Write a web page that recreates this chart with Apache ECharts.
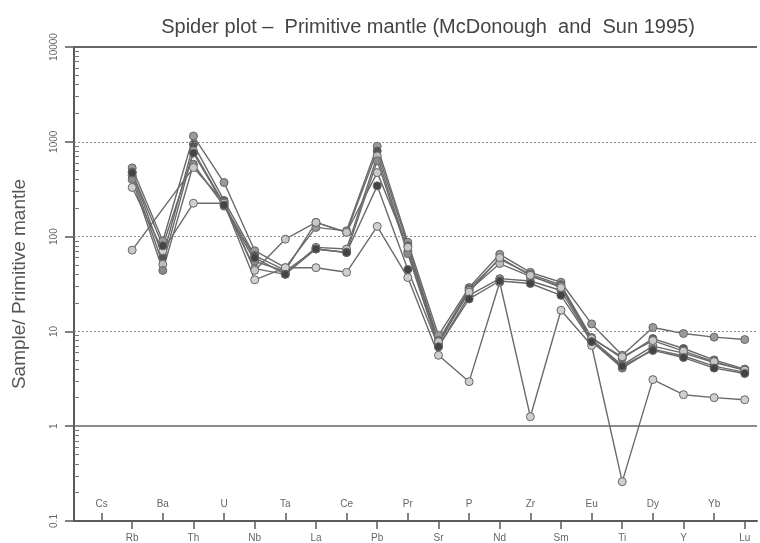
<!DOCTYPE html>
<html>
<head>
<meta charset="utf-8">
<title>Spider plot</title>
<script src="https://cdn.jsdelivr.net/npm/echarts@6/dist/echarts.min.js"></script>
<style>
  html, body { margin: 0; padding: 0; background: #fff; }
  #chart { width: 760px; height: 543px; }
</style>
</head>
<body>
<div id="chart"></div>
<script>
// Elements in spider-plot order (Cs has no analysed value)
const elements = ['Cs','Rb','Ba','Th','U','Nb','Ta','La','Ce','Pb','Pr','Sr','P','Nd','Zr','Sm','Eu','Ti','Dy','Y','Yb','Lu'];

// Sample / primitive mantle ratios, one array per sample
const sample1 = [null,530,90,1150,372,71,47,125,115,900,87,9.1,29,65,42,33,12,5.6,11,9.5,8.7,8.2];
const sample2 = [null,480,61,940,240,63,44,141,111,800,80,8.0,28,58,40,31,8.6,5.2,8.4,6.6,5.0,4.0];
const sample3 = [null,440,51,800,220,46,40,77,74,710,70,7.4,27,52,38,30,8.2,4.4,7.0,5.9,4.7,3.9];
const sample4 = [null,400,44,580,210,55,43,74,68,630,66,6.9,24,36,34,27,7.9,4.1,6.5,5.5,4.3,3.7];
const sample5 = [null,72,null,535,230,44,94,141,111,473,77,7.8,26,60,39,29,8.4,5.4,8.0,6.2,4.8,3.9];
const sample6 = [null,330,71,225,225,35,47,47,42,128,37,5.6,2.95,33,1.26,16.7,7.1,0.26,3.1,2.15,2.0,1.9];
const sample7 = [null,470,80,760,215,60,40,74,68,343,45,6.9,22,34,32,24,7.8,4.3,6.3,5.3,4.1,3.6];

const samples = [sample1, sample2, sample3, sample4, sample5, sample6, sample7];
const markerFills = ['#9a9a9a', '#555555', '#bdbdbd', '#8a8a8a', '#c8c8c8', '#d0d0d0', '#444444'];

// Decade labels on the log axis
const yTickLabels = [0.1, 1, 10, 100, 1000, 10000];

// 2..9 minor ticks inside every decade
const minorTicks = [];
yTickLabels.slice(0, -1).forEach(d => { for (let k = 2; k <= 9; k++) minorTicks.push(+(d * k).toPrecision(3)); });

const evenIdx = elements.map((_, i) => i).filter(i => i % 2 === 0);
const oddIdx = elements.map((_, i) => i).filter(i => i % 2 === 1);

const FONT = 'Liberation Sans, Arial, sans-serif';
const xMin = -0.9, xMax = 21.4;

const chart = echarts.init(document.getElementById('chart'), null, { renderer: 'canvas' });

const series = samples.map((s, si) => ({
  type: 'line',
  xAxisIndex: 0,
  yAxisIndex: 0,
  connectNulls: true,
  symbol: 'circle',
  symbolSize: 8,
  z: 3,
  lineStyle: { color: '#6a6a6a', width: 1.4 },
  itemStyle: { color: markerFills[si], borderColor: '#666', borderWidth: 1 },
  data: s.map((v, i) => [i, v == null ? '-' : v]),
  animation: false
}));

// Reference lines across the plot at decades
series.push({
  type: 'line',
  xAxisIndex: 0,
  yAxisIndex: 0,
  data: [],
  silent: true,
  animation: false,
  markLine: {
    silent: true,
    symbol: 'none',
    label: { show: false },
    animation: false,
    data: [
      { yAxis: 10000, lineStyle: { color: '#666', width: 2, type: 'solid' } },
      { yAxis: 1000, lineStyle: { color: '#8c8c8c', width: 1, type: [2, 2] } },
      { yAxis: 100, lineStyle: { color: '#8c8c8c', width: 1, type: [2, 2] } },
      { yAxis: 10, lineStyle: { color: '#8c8c8c', width: 1, type: [2, 2] } },
      { yAxis: 1, lineStyle: { color: '#666', width: 1.5, type: 'solid' } }
    ]
  }
});

const option = {
  backgroundColor: '#fff',
  animation: false,
  title: {
    text: 'Spider plot \u2013  Primitive mantle (McDonough  and  Sun 1995)',
    left: 423,
    top: 12,
    textAlign: 'center',
    textStyle: { fontFamily: FONT, fontSize: 20, fontWeight: 'normal', color: '#444' }
  },
  grid: { left: 74, right: 3, top: 47, bottom: 20, containLabel: false },
  xAxis: [
    {
      type: 'value', min: xMin, max: xMax, position: 'bottom',
      axisLine: { show: true, onZero: false, lineStyle: { color: '#5a5a5a', width: 2 } },
      axisTick: { show: true, inside: true, length: 8, customValues: evenIdx, lineStyle: { color: '#5a5a5a', width: 1.5 } },
      axisLabel: {
        show: true, inside: true, margin: 12, customValues: evenIdx,
        formatter: v => elements[Math.round(v)] || '',
        fontFamily: FONT, fontSize: 10, color: '#666'
      },
      splitLine: { show: false }
    },
    {
      type: 'value', min: xMin, max: xMax, position: 'bottom',
      axisLine: { show: false, onZero: false },
      axisTick: { show: true, inside: false, length: 8, customValues: oddIdx, lineStyle: { color: '#5a5a5a', width: 1.5 } },
      axisLabel: {
        show: true, margin: 12, customValues: oddIdx,
        formatter: v => elements[Math.round(v)] || '',
        fontFamily: FONT, fontSize: 10, color: '#666'
      },
      splitLine: { show: false }
    }
  ],
  yAxis: [
    {
      type: 'log', logBase: 10, min: 0.1, max: 10000, position: 'left',
      axisLine: { show: true, onZero: false, lineStyle: { color: '#5a5a5a', width: 2 } },
      axisTick: { show: true, inside: true, length: 5, customValues: minorTicks, lineStyle: { color: '#777', width: 1 } },
      axisLabel: { show: false },
      splitLine: { show: false }
    },
    {
      type: 'log', logBase: 10, min: 0.1, max: 10000, position: 'left',
      name: 'Sample/ Primitive mantle',
      nameLocation: 'middle',
      nameGap: 45,
      nameRotate: 90,
      nameTextStyle: { fontFamily: FONT, fontSize: 19, color: '#555' },
      axisLine: { show: false, onZero: false },
      axisTick: { show: true, inside: false, length: 9, customValues: yTickLabels, lineStyle: { color: '#5a5a5a', width: 1.5 } },
      axisLabel: {
        show: true, rotate: 90, margin: 15, customValues: yTickLabels,
        formatter: v => String(+(+v).toPrecision(3)),
        fontFamily: FONT, fontSize: 10, color: '#666'
      },
      splitLine: { show: false }
    }
  ],
  series: series
};

chart.setOption(option);
</script>
</body>
</html>
